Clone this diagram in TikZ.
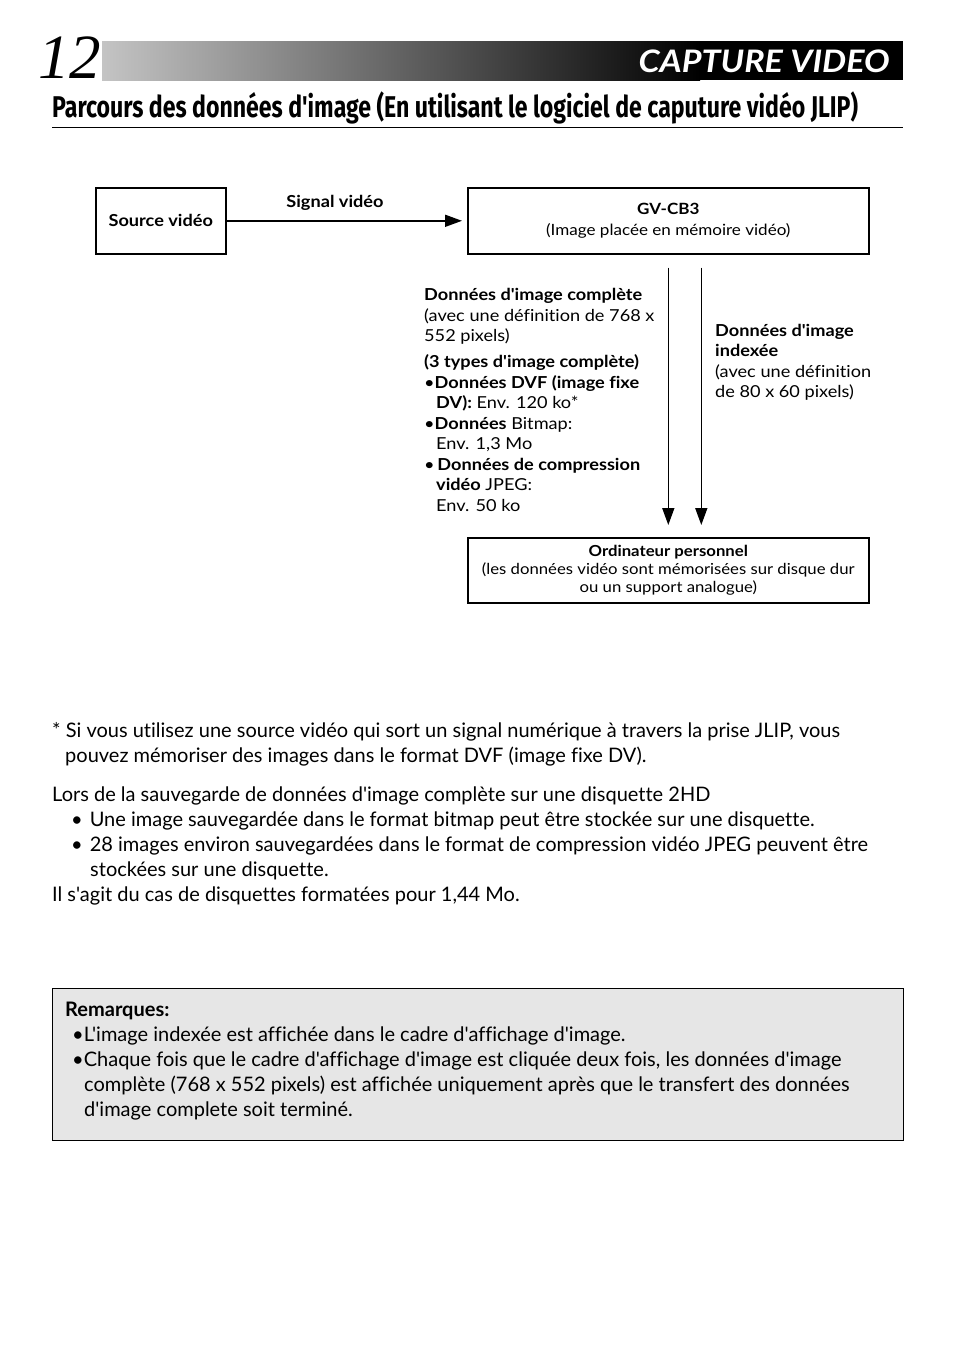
\documentclass[tikz,border=0pt]{standalone}
\usepackage{fontspec}
\setmainfont{Lato}[Ligatures={TeXOff,NoCommon}, FakeStretch=1.1]
\newfontfamily\corpsfont[Ligatures=NoCommon]{Lato}
\newfontfamily\titrefont[FakeStretch=0.77]{Fira Sans}
\newfontfamily\chiffrefont{Liberation Serif}
\usetikzlibrary{arrows.meta}
\definecolor{grisfond}{HTML}{E6E6E6}
\definecolor{grisclair}{HTML}{C4C4C4}
\tikzset{
  boite/.style={draw, line width=1.6pt, inner sep=0pt, anchor=north west, align=center},
  petit/.style={font=\fontsize{16.5}{20.5}\selectfont, inner sep=0pt, align=left, anchor=base west},
  corps/.style={font=\corpsfont\fontsize{20}{25}\selectfont, inner sep=0pt, align=left, anchor=base west},
  fleche/.style={line width=1.6pt, -{Triangle[length=17pt,width=12pt]}},
}
\begin{document}
\begin{tikzpicture}[x=1pt,y=-1pt]
            \path[use as bounding box, fill=white] (0,0) rectangle (954,1355);
            %en-tete
            \shade[left color=grisclair, right color=black] (102,41) rectangle (700,80);
            \fill[black] (700,41) rectangle (903,80);
            \node[font=\chiffrefont\itshape\fontsize{63}{63}\selectfont, anchor=base west, inner sep=0pt] (numero) at (38,78) {12};
            \node[font=\bfseries\itshape\fontsize{31}{31}\selectfont, text=white, anchor=base east, inner sep=0pt] (rubrique) at (890,72) {CAPTURE VIDEO};
            \node[font=\titrefont\bfseries\fontsize{30}{30}\selectfont, anchor=base west, inner sep=0pt] (titre) at (52,117) {Parcours des données d'image (En utilisant le logiciel de caputure vidéo JLIP)};
            \draw[line width=1pt] (52,127) -- (903,127);
            %schema
            \node[boite, minimum width=130pt, minimum height=66pt, font=\bfseries\fontsize{16.5}{20}\selectfont] (source) at (95,187) {Source vidéo};
            \node[boite, minimum width=401pt, minimum height=66pt, font=\fontsize{15.5}{21}\selectfont] (gv) at (467,187) {\textbf{GV-CB3}\\(Image placée en mémoire vidéo)};
            \node[boite, minimum width=401pt, minimum height=65pt, font=\fontsize{15.2}{18}\selectfont] (pc) at (467,537) {\textbf{Ordinateur personnel}\\(les données vidéo sont mémorisées sur disque dur\\ou un support analogue)};
            \node[font=\bfseries\fontsize{16.5}{20}\selectfont, inner sep=0pt] (signal) at (335,203) {Signal vidéo};
            \draw[fleche] (source.east) -- ([xshift=-5pt]gv.west);
            \draw[fleche, shorten <=13pt, shorten >=12pt] (gv.south) -- (pc.north);
            \draw[fleche, shorten <=13pt, shorten >=12pt] ([xshift=33pt]gv.south) -- ([xshift=33pt]pc.north);
            \node[petit] (complete) at (424,511) {\textbf{Données d'image complète}\\
              (avec une définition de 768 x\\
              552 pixels)\\[5.5pt]
              \textbf{(3 types d'image complète)}\\
              \textbullet\textbf{Données DVF (image fixe}\\
              \hspace*{12pt}\textbf{DV):} Env. 120 ko*\\
              \textbullet\textbf{Données} Bitmap:\\
              \hspace*{12pt}Env. 1,3 Mo\\
              \textbullet\,\textbf{Données de compression}\\
              \hspace*{12pt}\textbf{vidéo} JPEG:\\
              \hspace*{12pt}Env. 50 ko};
            \node[petit] (indexee) at (715,397.5) {\textbf{Données d'image}\\
              \textbf{indexée}\\
              (avec une définition\\
              de 80 x 60 pixels)};
            %notes
            \node[corps] (etoile) at (52,762) {* Si vous utilisez une source vidéo qui sort un signal numérique à travers la prise JLIP, vous\\
              \hspace*{13pt}pouvez mémoriser des images dans le format DVF (image fixe DV).};
            \node[corps] (disquette) at (52,901) {Lors de la sauvegarde de données d'image complète sur une disquette 2HD\\
              \hspace*{19pt}\textbullet\hspace{7pt}Une image sauvegardée dans le format bitmap peut être stockée sur une disquette.\\
              \hspace*{19pt}\textbullet\hspace{7pt}28 images environ sauvegardées dans le format de compression vidéo JPEG peuvent être\\
              \hspace*{38pt}stockées sur une disquette.\\
              Il s'agit du cas de disquettes formatées pour 1,44 Mo.};
            %remarques
            \node[draw, line width=1.2pt, fill=grisfond, minimum width=851pt, minimum height=152pt, anchor=north west, inner sep=0pt] (cadre) at (52,988) {};
            \node[corps] (remarques) at (65,1116) {\textbf{Remarques:}\\
              \hspace*{7pt}\textbullet L'image indexée est affichée dans le cadre d'affichage d'image.\\
              \hspace*{7pt}\textbullet Chaque fois que le cadre d'affichage d'image est cliquée deux fois, les données d'image\\
              \hspace*{19pt}complète (768 x 552 pixels) est affichée uniquement après que le transfert des données\\
              \hspace*{19pt}d'image complete soit terminé.};
\end{tikzpicture}
\end{document}
